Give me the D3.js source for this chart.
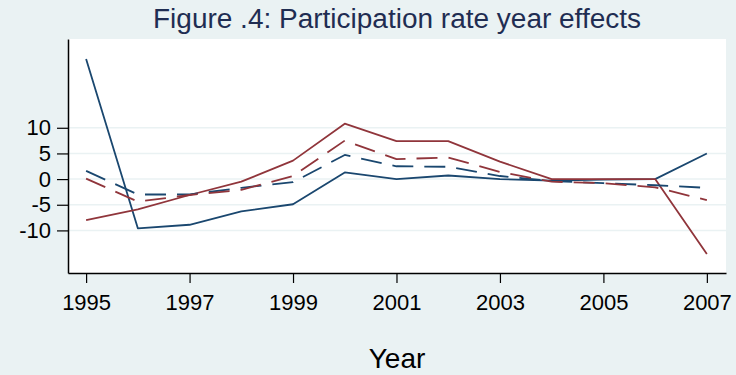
<!DOCTYPE html>
<html>
<head>
<meta charset="utf-8">
<script src="https://cdn.jsdelivr.net/npm/d3@7"></script>
<style>
  body { margin: 0; background: #eaf2f3; }
  text { font-family: Arial, "Liberation Sans", Helvetica, sans-serif; }
</style>
</head>
<body>
<div id="chart"></div>
<script>
// years on the x axis
const years = [1995, 1996, 1997, 1998, 1999, 2000, 2001, 2002, 2003, 2004, 2005, 2006, 2007];

// series values
const solidNavy   = [23.4, -9.6, -8.9, -6.3, -4.9, 1.3, 0.0, 0.7, 0.0, -0.3, -0.1, 0.0, 5.0];
const solidMaroon = [-8.0, -5.9, -3.1, -0.5, 3.6, 10.8, 7.4, 7.4, 3.4, 0.0, 0.0, 0.0, -14.6];
const dashNavy    = [1.6, -3.0, -3.0, -1.7, -0.6, 4.7, 2.5, 2.4, 0.6, -0.4, -0.8, -1.2, -1.7];
const dashMaroon  = [0.1, -4.4, -3.1, -2.1, 0.6, 7.5, 3.9, 4.2, 1.4, -0.5, -0.8, -1.6, -4.1];

const yTicks = [-10, -5, 0, 5, 10];
const xTicks = [1995, 1997, 1999, 2001, 2003, 2005, 2007];

const title = "Figure .4: Participation rate year effects";
const xTitle = "Year";

let W = 736, H = 375;
let margin = {top: 39, right: 10, bottom: 102, left: 68},
    width = W - margin.left - margin.right,
    height = H - margin.top - margin.bottom;

let svg = d3.select("#chart")
  .append("svg")
    .attr("width", W)
    .attr("height", H);

svg.append("rect")
    .attr("width", W).attr("height", H)
    .attr("fill", "#eaf2f3");

// title, stretched a little to the width seen in the figure
svg.append("text")
    .attr("x", 153)
    .attr("y", 28)
    .attr("font-size", 27)
    .attr("fill", "#1f2d52")
    .attr("textLength", 488)
    .attr("lengthAdjust", "spacingAndGlyphs")
    .text(title);

let g = svg.append("g")
    .attr("transform", "translate(" + margin.left + "," + margin.top + ")");

// plot region
g.append("rect")
    .attr("width", width).attr("height", height)
    .attr("fill", "#ffffff");

let x = d3.scaleLinear()
    .domain([1994.65, 2007.37])
    .range([0, width]);

let y = d3.scaleLinear()
    .domain([-18.3, 27.3])
    .range([height, 0]);

// grid lines
g.append("g")
  .selectAll("line")
  .data(yTicks)
  .enter().append("line")
    .attr("x1", 0).attr("x2", width)
    .attr("y1", d => y(d)).attr("y2", d => y(d))
    .attr("stroke", "#eaf2f3")
    .attr("stroke-width", 1.5);

let series = [
  {values: solidNavy,   color: "#1a476f", dash: null},
  {values: solidMaroon, color: "#90353b", dash: null},
  {values: dashNavy,    color: "#1a476f", dash: "21,11"},
  {values: dashMaroon,  color: "#90353b", dash: "21,11"}
];

let line = d3.line()
    .x((d, i) => x(years[i]))
    .y(d => y(d));

g.selectAll("path.series")
  .data(series)
  .enter().append("path")
    .attr("class", "series")
    .attr("d", d => line(d.values))
    .attr("fill", "none")
    .attr("stroke", d => d.color)
    .attr("stroke-width", 1.8)
    .attr("stroke-linejoin", "round")
    .attr("stroke-dasharray", d => d.dash);

// x axis
let xAxis = g.append("g")
    .attr("transform", "translate(0," + height + ")")
    .call(d3.axisBottom(x).tickValues(xTicks).tickFormat(d3.format("d")).tickSize(10).tickSizeOuter(0).tickPadding(11));
xAxis.select(".domain").attr("stroke", "#000").attr("stroke-width", 1.5);
xAxis.selectAll(".tick line").attr("stroke", "#000").attr("stroke-width", 1.2);
xAxis.selectAll(".tick text").attr("font-size", 22).attr("fill", "#000")
    .attr("font-family", "Arial, 'Liberation Sans', sans-serif");

// y axis
let yAxis = g.append("g")
    .call(d3.axisLeft(y).tickValues(yTicks).tickSize(11).tickSizeOuter(0).tickPadding(6));
yAxis.select(".domain").attr("stroke", "#000").attr("stroke-width", 1.5);
yAxis.selectAll(".tick line").attr("stroke", "#000").attr("stroke-width", 1.2);
yAxis.selectAll(".tick text").attr("font-size", 22).attr("fill", "#000")
    .attr("font-family", "Arial, 'Liberation Sans', sans-serif")
    .text(d => d < 0 ? "-" + Math.abs(d) : d);

svg.append("text")
    .attr("x", 397)
    .attr("y", 368)
    .attr("text-anchor", "middle")
    .attr("font-size", 28)
    .attr("fill", "#000")
    .text(xTitle);
</script>
</body>
</html>
